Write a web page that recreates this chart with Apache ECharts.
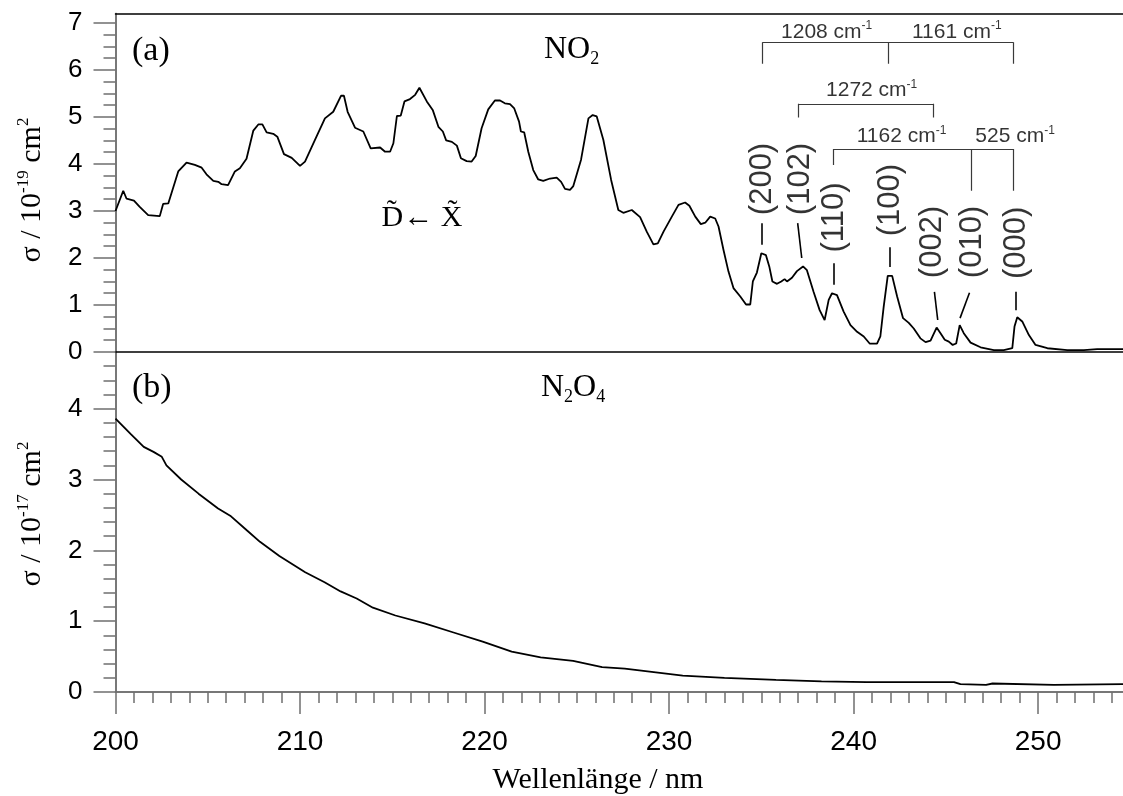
<!DOCTYPE html>
<html>
<head>
<meta charset="utf-8">
<script src="https://cdn.jsdelivr.net/npm/echarts@6/dist/echarts.min.js"></script>
<style>
  html, body { margin: 0; padding: 0; background: #fff; }
  #chart { width: 1123px; height: 796px; }
</style>
</head>
<body>
<div id="chart"></div>
<script>
// (a) NO2 absorption cross section, sigma in 1e-19 cm^2, against wavelength in nm
const no2Wavelength = [
  200.0, 200.42, 200.6, 201.0, 201.3, 201.77, 202.4, 202.58, 202.86, 203.4,
  203.85, 204.3, 204.67, 204.93, 205.3, 205.57, 205.75, 206.1, 206.47, 206.74,
  207.1, 207.47, 207.74, 207.96, 208.19, 208.55, 208.77, 209.13, 209.55, 210.0,
  210.27, 210.81, 211.35, 211.8, 212.22, 212.38, 212.58, 212.98, 213.43, 213.83,
  214.34, 214.61, 214.88, 215.06, 215.25, 215.46, 215.66, 215.96, 216.24, 216.47,
  216.87, 217.2, 217.5, 217.74, 217.92, 218.23, 218.5, 218.72, 219.03, 219.3,
  219.52, 219.84, 220.2, 220.56, 220.84, 221.1, 221.38, 221.61, 221.87, 221.97,
  222.15, 222.37, 222.64, 222.91, 223.18, 223.55, 223.91, 224.15, 224.36, 224.63,
  224.81, 225.23, 225.63, 225.86, 226.08, 226.44, 226.86, 227.25, 227.52, 227.98,
  228.43, 228.79, 229.15, 229.39, 229.7, 230.15, 230.51, 230.87, 231.1, 231.42,
  231.72, 231.96, 232.23, 232.5, 232.68, 232.95, 233.22, 233.49, 233.86, 234.17,
  234.4, 234.54, 234.76, 235.0, 235.25, 235.43, 235.6, 235.85, 236.08, 236.26,
  236.39, 236.66, 236.93, 237.26, 237.47, 237.83, 238.16, 238.43, 238.65, 238.83,
  239.1, 239.46, 239.83, 240.19, 240.55, 240.87, 241.27, 241.45, 241.63, 241.85,
  242.09, 242.36, 242.68, 242.99, 243.26, 243.62, 243.9, 244.17, 244.5, 244.71,
  244.94, 245.16, 245.37, 245.56, 245.75, 245.97, 246.34, 246.88, 247.6, 248.14,
  248.6, 248.72, 248.87, 249.14, 249.5, 249.86, 250.5, 251.58, 252.48, 253.2,
  254.6
];
const no2Sigma = [
  3.00, 3.43, 3.26, 3.22, 3.09, 2.91, 2.89, 3.15, 3.16, 3.84,
  4.03, 3.98, 3.92, 3.78, 3.64, 3.62, 3.57, 3.55, 3.84, 3.91,
  4.11, 4.71, 4.84, 4.84, 4.67, 4.64, 4.58, 4.21, 4.13, 3.96,
  4.05, 4.51, 4.97, 5.11, 5.45, 5.45, 5.11, 4.77, 4.69, 4.33,
  4.35, 4.26, 4.26, 4.44, 5.02, 5.03, 5.33, 5.38, 5.47, 5.62,
  5.33, 5.14, 4.79, 4.69, 4.50, 4.47, 4.39, 4.12, 4.06, 4.05,
  4.17, 4.76, 5.16, 5.35, 5.35, 5.29, 5.27, 5.18, 4.90, 4.69,
  4.67, 4.26, 3.87, 3.67, 3.64, 3.69, 3.71, 3.62, 3.47, 3.45,
  3.53, 4.09, 4.97, 5.04, 5.01, 4.51, 3.66, 3.02, 2.96, 3.02,
  2.87, 2.56, 2.29, 2.31, 2.56, 2.88, 3.13, 3.18, 3.11, 2.88,
  2.72, 2.75, 2.88, 2.84, 2.67, 2.17, 1.71, 1.36, 1.18, 1.01,
  1.01, 1.50, 1.69, 2.10, 2.06, 1.82, 1.50, 1.45, 1.50, 1.55,
  1.50, 1.58, 1.72, 1.82, 1.74, 1.28, 0.89, 0.68, 1.11, 1.25,
  1.21, 0.86, 0.57, 0.43, 0.33, 0.18, 0.18, 0.33, 0.96, 1.62,
  1.62, 1.18, 0.72, 0.62, 0.50, 0.29, 0.21, 0.24, 0.52, 0.40,
  0.26, 0.22, 0.15, 0.18, 0.57, 0.40, 0.20, 0.10, 0.04, 0.04,
  0.08, 0.54, 0.74, 0.65, 0.36, 0.15, 0.08, 0.04, 0.04, 0.06,
  0.06
];

// (b) N2O4 absorption cross section, sigma in 1e-17 cm^2
const n2o4Wavelength = [
  200.0, 200.83, 201.53, 202.06, 202.51, 202.76, 203.56, 204.5, 205.56, 206.26,
  207.13, 207.83, 208.88, 210.28, 211.33, 212.2, 213.07, 213.95, 215.17, 216.75,
  218.32, 219.9, 221.47, 223.04, 224.8, 226.37, 227.6, 229.17, 230.74, 233.0,
  235.8, 238.26, 240.7, 243.5, 245.44, 245.79, 247.18, 247.53, 250.85, 254.6
];
const n2o4Sigma = [
  3.86, 3.64, 3.46, 3.39, 3.32, 3.20, 3.00, 2.80, 2.59, 2.48,
  2.28, 2.12, 1.92, 1.69, 1.55, 1.42, 1.32, 1.19, 1.08, 0.97,
  0.84, 0.71, 0.57, 0.49, 0.44, 0.35, 0.33, 0.28, 0.23, 0.20,
  0.17, 0.15, 0.14, 0.14, 0.14, 0.11, 0.10, 0.12, 0.10, 0.11
];

// axis ranges and tick values
const xMin = 200, xMax = 254.6;
const xMajorTicks = [200, 210, 220, 230, 240, 250];
const xMinorTicks = [];
for (let k = 200; k <= 254; k++) xMinorTicks.push(k);

const yMaxTop = 7.2;
const yMajorTop = [0, 1, 2, 3, 4, 5, 6, 7];
const yMinorTop = [];
for (let k = 0; k <= 28; k++) yMinorTop.push(k / 4);

const yMaxBottom = 4.8;
const yMajorBottom = [0, 1, 2, 3, 4];
const yMinorBottom = [];
for (let k = 0; k <= 24; k++) yMinorBottom.push(Math.round(k * 2) / 10);

// vibronic band assignments (v1 v2 v3) and their label anchors / leader lines
const bandNames = ['(200)', '(102)', '(110)', '(100)', '(002)', '(010)', '(000)'];
const bandLabelAt = [
  [235.05, 3.68], [237.13, 3.68], [238.95, 2.86], [241.98, 3.23],
  [244.3, 2.34], [246.45, 2.34], [248.85, 2.32]
];
const bandLeaders = [
  [[235.0, 2.74], [235.0, 2.28]],
  [[236.97, 2.74], [237.19, 2.0]],
  [[238.9, 1.89], [238.9, 1.43]],
  [[241.98, 2.23], [241.98, 1.81]],
  [[244.38, 1.28], [244.56, 0.68]],
  [[246.28, 1.26], [245.77, 0.72]],
  [[248.8, 1.28], [248.8, 0.89]]
];

// progression brackets: feet positions, bar height, foot ends
const progressionFeet = [
  [235.06, 241.89, 248.66],
  [237.01, 244.33],
  [238.9, 246.4, 248.66]
];
const progressionBar = [6.59, 5.28, 4.32];
const progressionEnds = [
  [6.13, 6.13, 6.13],
  [4.99, 4.99],
  [3.98, 3.43, 3.43]
];
const spacingValues = ['1208', '1161', '1272', '1162', '525'];
const spacingAt = [[238.54, 6.81], [245.59, 6.81], [240.98, 5.56], [242.6, 4.58], [248.75, 4.58]];

const SANS = '"Liberation Sans", Arial, sans-serif';
const SERIF = '"Liberation Serif", "Times New Roman", serif';
const AXIS_GRAY = '#6f6f6f';

const zip = (xs, ys) => xs.map((x, i) => [x, ys[i]]);

// bracket segments built from the progression arrays
const bracketSegments = [];
progressionFeet.forEach((feet, i) => {
  bracketSegments.push({ coords: [[feet[0], progressionBar[i]], [feet[feet.length - 1], progressionBar[i]]] });
  feet.forEach((fx, j) => {
    bracketSegments.push({ coords: [[fx, progressionBar[i]], [fx, progressionEnds[i][j]]] });
  });
});
const leaderSegments = bandLeaders.map(seg => ({ coords: seg }));

function tickAxis(gridIndex, opts) {
  return Object.assign({
    type: 'value',
    gridIndex: gridIndex,
    splitLine: { show: false },
    axisLine: { show: true, onZero: false, lineStyle: { color: AXIS_GRAY, width: 1.5 } },
    axisTick: { show: false },
    axisLabel: { show: false }
  }, opts);
}

const chart = echarts.init(document.getElementById('chart'), null, { renderer: 'canvas' });

const option = {
  backgroundColor: '#ffffff',
  animation: false,
  grid: [
    { left: 115.5, top: 13.5, right: 0, height: 338.5, outerBoundsMode: 'none', containLabel: false },
    { left: 115.5, top: 352, right: 0, height: 340, outerBoundsMode: 'none', containLabel: false }
  ],
  xAxis: [
    // panel (a): lower frame line (shared border) and upper frame line
    tickAxis(0, { min: xMin, max: xMax, position: 'bottom',
      axisLine: { show: true, onZero: false, lineStyle: { color: '#000', width: 1.5 } } }),
    tickAxis(0, { min: xMin, max: xMax, position: 'top',
      axisLine: { show: true, onZero: false, lineStyle: { color: '#000', width: 1.5 } } }),
    // panel (b): minor and major wavelength ticks
    tickAxis(1, { min: xMin, max: xMax, position: 'bottom',
      axisTick: { show: true, customValues: xMinorTicks, length: 11, lineStyle: { color: AXIS_GRAY, width: 1.5 } } }),
    tickAxis(1, { min: xMin, max: xMax, position: 'bottom',
      axisTick: { show: true, customValues: xMajorTicks, length: 22, lineStyle: { color: AXIS_GRAY, width: 1.5 } },
      axisLabel: { show: true, customValues: xMajorTicks, margin: 36, color: '#000', fontSize: 28, fontFamily: SANS } })
  ],
  yAxis: [
    tickAxis(0, { min: 0, max: yMaxTop, position: 'left',
      axisTick: { show: true, customValues: yMinorTop, length: 12, lineStyle: { color: AXIS_GRAY, width: 1.5 } } }),
    tickAxis(0, { min: 0, max: yMaxTop, position: 'left',
      axisTick: { show: true, customValues: yMajorTop, length: 22, lineStyle: { color: AXIS_GRAY, width: 1.5 } },
      axisLabel: { show: true, customValues: yMajorTop, margin: 33, color: '#000', fontSize: 26, fontFamily: SANS } }),
    tickAxis(1, { min: 0, max: yMaxBottom, position: 'left',
      axisTick: { show: true, customValues: yMinorBottom, length: 12, lineStyle: { color: AXIS_GRAY, width: 1.5 } } }),
    tickAxis(1, { min: 0, max: yMaxBottom, position: 'left',
      axisTick: { show: true, customValues: yMajorBottom, length: 22, lineStyle: { color: AXIS_GRAY, width: 1.5 } },
      axisLabel: { show: true, customValues: yMajorBottom, margin: 33, color: '#000', fontSize: 26, fontFamily: SANS } })
  ],
  series: [
    {
      name: 'NO2', type: 'line', xAxisIndex: 0, yAxisIndex: 0,
      data: zip(no2Wavelength, no2Sigma),
      showSymbol: false, symbol: 'none', silent: true,
      lineStyle: { color: '#000', width: 1.8 }, z: 5
    },
    {
      name: 'N2O4', type: 'line', xAxisIndex: 2, yAxisIndex: 2,
      data: zip(n2o4Wavelength, n2o4Sigma),
      showSymbol: false, symbol: 'none', silent: true,
      lineStyle: { color: '#000', width: 1.8 }, z: 5
    },
    {
      name: 'progressions', type: 'lines', coordinateSystem: 'cartesian2d',
      xAxisIndex: 0, yAxisIndex: 0, silent: true,
      data: bracketSegments,
      lineStyle: { color: '#3a3a3a', width: 1.2, opacity: 1 }
    },
    {
      name: 'leaders', type: 'lines', coordinateSystem: 'cartesian2d',
      xAxisIndex: 0, yAxisIndex: 0, silent: true,
      data: leaderSegments,
      lineStyle: { color: '#000', width: 1.6, opacity: 1 }
    },
    {
      name: 'bands', type: 'scatter', xAxisIndex: 0, yAxisIndex: 0, silent: true,
      symbolSize: 1, itemStyle: { color: 'rgba(0,0,0,0)' },
      data: bandNames.map((n, i) => ({ name: n, value: bandLabelAt[i] })),
      label: {
        show: true, position: 'inside', rotate: 90, formatter: '{b}',
        color: '#000', fontSize: 31, fontFamily: SANS
      }
    },
    {
      name: 'spacings', type: 'scatter', xAxisIndex: 0, yAxisIndex: 0, silent: true,
      symbolSize: 1, itemStyle: { color: 'rgba(0,0,0,0)' },
      data: spacingValues.map((v, i) => ({ name: v, value: spacingAt[i] })),
      label: {
        show: true, position: 'inside', color: '#000',
        formatter: p => '{n|' + p.name + ' cm}{s|-1}',
        rich: {
          n: { fontSize: 21, fontFamily: SANS, color: '#000', lineHeight: 24 },
          s: { fontSize: 12, fontFamily: SANS, color: '#000', lineHeight: 12, verticalAlign: 'top' }
        }
      }
    }
  ],
  graphic: [
    { type: 'text', x: 132, y: 51, silent: true,
      style: { text: '(a)', font: '34px ' + SERIF, fill: '#000', align: 'left', verticalAlign: 'middle' } },
    { type: 'text', x: 132, y: 388, silent: true,
      style: { text: '(b)', font: '34px ' + SERIF, fill: '#000', align: 'left', verticalAlign: 'middle' } },
    { type: 'text', x: 544, y: 50, silent: true,
      style: {
        text: '{m|NO}{d|2}', align: 'left', verticalAlign: 'middle',
        rich: {
          m: { fontSize: 32, fontFamily: SERIF, fill: '#000', lineHeight: 36 },
          d: { fontSize: 18, fontFamily: SERIF, fill: '#000', lineHeight: 22, verticalAlign: 'bottom' }
        }
      } },
    { type: 'text', x: 541, y: 388, silent: true,
      style: {
        text: '{m|N}{d|2}{m|O}{d|4}', align: 'left', verticalAlign: 'middle',
        rich: {
          m: { fontSize: 32, fontFamily: SERIF, fill: '#000', lineHeight: 36 },
          d: { fontSize: 18, fontFamily: SERIF, fill: '#000', lineHeight: 22, verticalAlign: 'bottom' }
        }
      } },
    { type: 'text', x: 422, y: 218, silent: true,
      style: {
        text: '{m|D\u0303}{a|\u2190}{m| X\u0303}', align: 'center', verticalAlign: 'middle',
        rich: {
          m: { fontSize: 30, fontFamily: SERIF, fill: '#000', lineHeight: 34 },
          a: { fontSize: 30, fontFamily: SANS, fontWeight: 'bold', fill: '#000', lineHeight: 34 }
        }
      } },
    { type: 'text', x: 32, y: 190, rotation: Math.PI / 2, silent: true,
      style: {
        text: '{m|σ / 10}{u|-19}{m| cm}{u|2}', align: 'center', verticalAlign: 'middle',
        rich: {
          m: { fontSize: 30, fontFamily: SERIF, fill: '#000', lineHeight: 34 },
          u: { fontSize: 17, fontFamily: SERIF, fill: '#000', lineHeight: 16, verticalAlign: 'top' }
        }
      } },
    { type: 'text', x: 32, y: 514, rotation: Math.PI / 2, silent: true,
      style: {
        text: '{m|σ / 10}{u|-17}{m| cm}{u|2}', align: 'center', verticalAlign: 'middle',
        rich: {
          m: { fontSize: 30, fontFamily: SERIF, fill: '#000', lineHeight: 34 },
          u: { fontSize: 17, fontFamily: SERIF, fill: '#000', lineHeight: 16, verticalAlign: 'top' }
        }
      } },
    { type: 'text', x: 598, y: 780, silent: true,
      style: { text: 'Wellenlänge / nm', font: '30px ' + SERIF, fill: '#000', align: 'center', verticalAlign: 'middle' } }
  ]
};

chart.setOption(option);
</script>
</body>
</html>
